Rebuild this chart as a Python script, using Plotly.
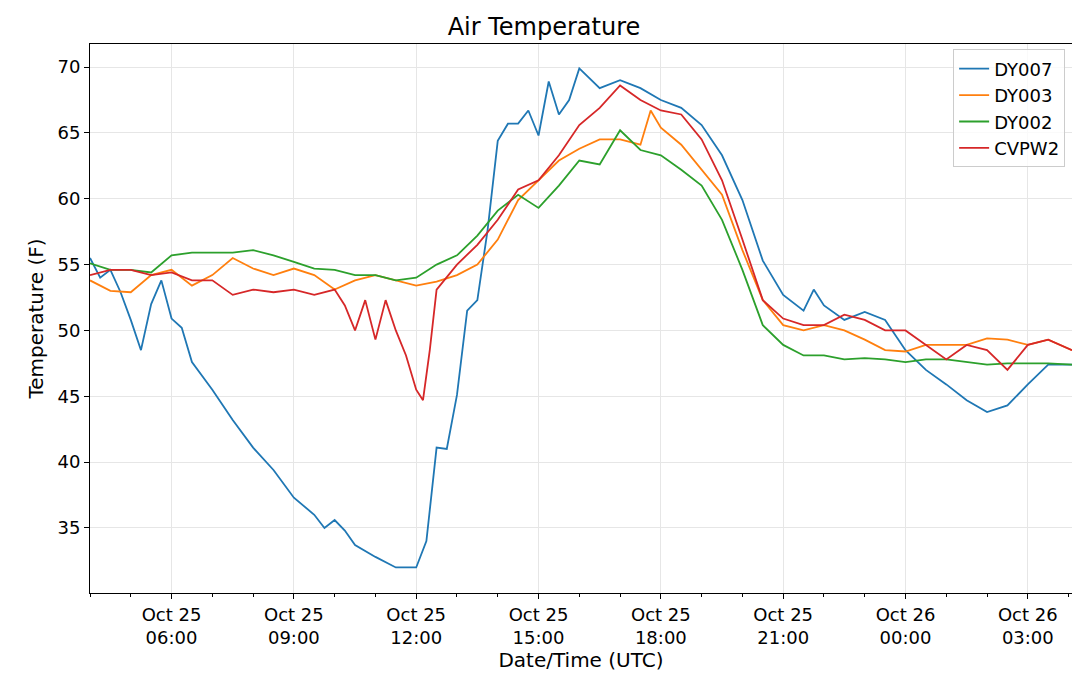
import plotly.graph_objects as go

half = ["04:00","04:30","05:00","05:30","06:00","06:30","07:00","07:30","08:00","08:30","09:00","09:30",
        "10:00","10:30","11:00","11:30","12:00","12:30","13:00","13:30","14:00","14:30","15:00","15:30",
        "16:00","16:30","17:00","17:30","18:00","18:30","19:00","19:30","20:00","20:30","21:00","21:30",
        "22:00","22:30","23:00","23:30"]
half26 = ["00:00","00:30","01:00","01:30","02:00","02:30","03:00","03:30","04:05"]

def times(t25, t26):
    return ["2019-10-25 "+t for t in t25]+["2019-10-26 "+t for t in t26]

dy007_t = times(["04:00","04:15","04:30","04:45","05:00","05:15","05:30","05:45","06:00","06:15","06:30","07:00","07:30","08:00","08:30","09:00","09:30","09:45","10:00","10:15","10:30","11:00","11:30","12:00","12:15","12:30","12:45","13:00","13:15","13:30","13:45","14:00","14:15","14:30","14:45","15:00","15:15","15:30","15:45","16:00","16:30","17:00","17:30","18:00","18:30","19:00","19:30","20:00","20:30","21:00","21:30","21:45","22:00","22:30","23:00","23:30"], half26)
dy007_v = [55.5,54.0,54.6,52.9,50.8,48.5,52.0,53.8,50.9,50.2,47.6,45.5,43.2,41.1,39.4,37.3,36.0,35.0,35.6,34.8,33.7,32.8,32.0,32.0,34.0,41.1,41.0,45.1,51.5,52.3,57.6,64.4,65.7,65.7,66.7,64.8,68.9,66.4,67.5,69.9,68.4,69.0,68.4,67.5,66.9,65.6,63.3,59.9,55.3,52.7,51.5,53.1,51.9,50.8,51.4,50.8,
           48.5,47.0,45.9,44.7,43.8,44.3,45.9,47.4,47.4]

dy003_t = times(half[:27]+["17:30","17:45"]+half[28:], half26)
dy003_v = [53.8,53.0,52.9,54.2,54.6,53.4,54.2,55.5,54.7,54.2,54.7,54.2,53.1,53.8,54.2,53.8,53.4,53.7,54.2,55.0,56.9,59.9,61.4,62.9,63.8,64.5,64.5,64.1,66.7,65.4,64.1,62.2,60.3,56.1,52.3,50.4,50.0,50.4,50.0,49.3,48.5,
           48.4,48.9,48.9,48.9,49.4,49.3,48.9,49.3,48.5]

dy002_t = times(half, half26)
dy002_v = [55.1,54.6,54.6,54.4,55.7,55.9,55.9,55.9,56.1,55.7,55.2,54.7,54.6,54.2,54.2,53.8,54.0,55.0,55.7,57.2,59.1,60.3,59.3,61.0,62.9,62.6,65.2,63.7,63.3,62.2,61.0,58.4,54.6,50.4,48.9,48.1,48.1,47.8,47.9,47.8,
           47.6,47.8,47.8,47.6,47.4,47.5,47.5,47.5,47.4]

cvpw2_t = times(["04:00","04:30","05:00","05:30","06:00","06:30","07:00","07:30","08:00","08:30","09:00","09:30","10:00","10:15","10:30","10:45","11:00","11:15","11:30","11:45","12:00","12:10","12:20","12:30","13:00","13:30","14:00","14:30","15:00","15:30","16:00","16:30","17:00","17:30","18:00","18:30","19:00","19:30","20:00","20:30","21:00","21:30","22:00","22:30","23:00","23:30"], half26)
cvpw2_v = [54.2,54.6,54.6,54.2,54.4,53.8,53.8,52.7,53.1,52.9,53.1,52.7,53.1,51.9,50.0,52.3,49.3,52.3,50.0,48.1,45.5,44.7,48.5,53.1,55.0,56.5,58.4,60.7,61.4,63.3,65.6,66.9,68.6,67.5,66.7,66.4,64.5,61.4,56.9,52.3,50.9,50.4,50.4,51.2,50.8,50.0,
           50.0,48.9,47.8,48.9,48.5,47.0,48.9,49.3,48.5]

series = [("DY007", dy007_t, dy007_v, "#1f77b4"), ("DY003", dy003_t, dy003_v, "#ff7f0e"),
          ("DY002", dy002_t, dy002_v, "#2ca02c"), ("CVPW2", cvpw2_t, cvpw2_v, "#d62728")]

tick_vals = ["2019-10-25 06:00","2019-10-25 09:00","2019-10-25 12:00","2019-10-25 15:00","2019-10-25 18:00",
             "2019-10-25 21:00","2019-10-26 00:00","2019-10-26 03:00"]
tick_text = ["Oct 25<br>06:00","Oct 25<br>09:00","Oct 25<br>12:00","Oct 25<br>15:00","Oct 25<br>18:00",
             "Oct 25<br>21:00","Oct 26<br>00:00","Oct 26<br>03:00"]

fig = go.Figure()
for name, t, v, c in series:
    fig.add_trace(go.Scatter(x=t, y=v, name=name, mode="lines", line=dict(color=c, width=1.8)))

fig.update_layout(
    width=1072, height=679, paper_bgcolor="white", plot_bgcolor="white",
    font=dict(family="DejaVu Sans", size=18, color="black"),
    title=dict(text="Air Temperature", x=0.5, xanchor="center", y=0.972, yanchor="middle", font=dict(size=24)),
    margin=dict(l=82, r=8, t=36, b=94, autoexpand=False),
    legend=dict(x=0.993, y=0.99, xanchor="right", yanchor="top", bordercolor="#cccccc", borderwidth=1,
                font=dict(size=18), bgcolor="rgba(255,255,255,0.8)"),
    xaxis=dict(range=["2019-10-25 04:00","2019-10-26 04:05"], tickvals=tick_vals, ticktext=tick_text,
               showgrid=True, gridcolor="#e6e6e6", showline=True, linecolor="black", mirror=True,
               ticks="outside", ticklen=5, tickcolor="black", automargin=False,
               minor=dict(dtick=3600000, ticks="outside", ticklen=3, tickcolor="black", showgrid=False),
               title=dict(text="Date/Time (UTC)", font=dict(size=20), standoff=4)),
    yaxis=dict(range=[30.06, 71.75], tickvals=[35,40,45,50,55,60,65,70], showgrid=True, gridcolor="#e6e6e6",
               showline=True, linecolor="black", mirror=True, ticks="outside", ticklen=5, tickcolor="black",
               zeroline=False, automargin=False, title=dict(text="Temperature (F)", font=dict(size=20), standoff=8)),
)
fig.write_html("out.html")
